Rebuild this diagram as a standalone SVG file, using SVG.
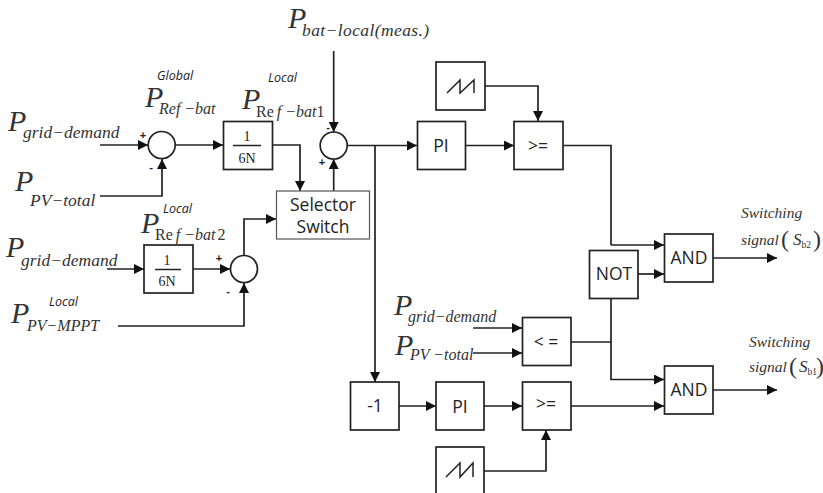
<svg xmlns="http://www.w3.org/2000/svg" width="823" height="493" viewBox="0 0 823 493">
<style>
.b{fill:#fff;stroke:#222;stroke-width:1.7}
.s{fill:#fff;stroke:#555;stroke-width:1.2}
.c{fill:none;stroke:#222;stroke-width:1.7}
.r{fill:none;stroke:#222;stroke-width:1.5}
.a{fill:none;stroke:#222;stroke-width:1.7;marker-end:url(#ah)}
text{fill:#222}
.m{font-family:"Liberation Serif",serif;font-style:italic;fill:#333}
.P{font-size:30px}
.u{font-size:17.500px}
.v{font-size:16px}
.up{font-style:normal}
.l{font-family:"Open Sans",sans-serif;font-style:italic;font-size:12.500px}
.g{font-family:"Open Sans",sans-serif;font-size:17.500px;text-anchor:middle}
.f{font-family:"Liberation Serif",serif;font-size:14px;text-anchor:middle}
.o{font-family:"Liberation Sans",sans-serif;font-size:11px;font-weight:bold;text-anchor:middle}
.sw{font-size:15.500px}
.par{font-size:24px;font-style:normal}
.t{font-size:9.500px;font-style:normal}
.cap{font-size:17px}
</style>
<defs>
<marker id="ah" markerUnits="userSpaceOnUse" markerWidth="11" markerHeight="11" refX="10" refY="5" orient="auto"><path d="M0 0L10 5L0 10Z" fill="#111"/></marker>
</defs>
<g id="connectors">
<path class="a" d="M100 145H148"/>
<path class="a" d="M100 196H162V159"/>
<path class="a" d="M175 145H223"/>
<path class="a" d="M272 145H300V191"/>
<path class="a" d="M333.700 51V132"/>
<path class="a" d="M333.700 191V159"/>
<path class="a" d="M107 269H144"/>
<path class="a" d="M193 269H230"/>
<path class="a" d="M244 255V219H276"/>
<path class="a" d="M118 326H244V283"/>
<path class="a" d="M347 145.500H417"/>
<path class="a" d="M375 145.500V382"/>
<path class="a" d="M466 145.500H514"/>
<path class="a" d="M485 86H538V121"/>
<path class="c" d="M563 145.500H611V245"/>
<path class="a" d="M611 245H664"/>
<path class="a" d="M638 274H664"/>
<path class="a" d="M713 258H777"/>
<path class="a" d="M473 328H522"/>
<path class="a" d="M473 353H522"/>
<path class="c" d="M571 342H611"/>
<path class="a" d="M611 299V379.500H664"/>
<path class="a" d="M399 406H436"/>
<path class="a" d="M484 406H522"/>
<path class="a" d="M571 406H664"/>
<path class="a" d="M484 471H546V430"/>
<path class="a" d="M713 390H777"/>
</g>
<g id="sum1"><circle class="b" cx="161.700" cy="145" r="13.500"/><text class="o" x="143" y="139">+</text><text class="o" x="151" y="171">-</text></g>
<g id="gain1"><rect class="b" x="223.500" y="121.500" width="49" height="48"/><text class="f" x="247" y="141">1</text><path class="r" d="M233 145.500H261"/><text class="f" x="247" y="163">6N</text></g>
<g id="sum2"><circle class="b" cx="333.700" cy="145.500" r="13.500"/><text class="o" x="328" y="131">-</text><text class="o" x="322" y="166">+</text></g>
<g id="selector"><rect class="s" x="276.500" y="191" width="93" height="48"/><text class="g" x="323" y="211">Selector</text><text class="g" x="323" y="233">Switch</text></g>
<g id="gain2"><rect class="b" x="144" y="245" width="49" height="48"/><text class="f" x="167" y="265">1</text><path class="r" d="M155 269.500H181"/><text class="f" x="167" y="286">6N</text></g>
<g id="sum3"><circle class="b" cx="244" cy="269" r="13.500"/><text class="o" x="219" y="262">+</text><text class="o" x="228" y="295">-</text></g>
<g id="pi1"><rect class="b" x="417.500" y="121.500" width="48" height="48"/><text class="g" x="441" y="152">PI</text></g>
<g id="ramp1"><rect class="b" x="436" y="62" width="49" height="48"/><path class="r" d="M447 93L460 80V93L474 80V93"/></g>
<g id="cmp1"><rect class="b" x="514" y="121.500" width="49" height="48"/><text class="g" x="538" y="152">&gt;=</text></g>
<g id="and1"><rect class="b" x="664.500" y="234" width="48.500" height="48"/><text class="g" x="689" y="264">AND</text></g>
<g id="not"><rect class="b" x="589.500" y="250.500" width="48.500" height="48"/><text class="g" x="614" y="280">NOT</text></g>
<g id="le"><rect class="b" x="522.500" y="317.500" width="48.500" height="48"/><text class="g" x="546" y="348">&lt; =</text></g>
<g id="and2"><rect class="b" x="664.500" y="366" width="48.500" height="48"/><text class="g" x="689" y="396">AND</text></g>
<g id="neg"><rect class="b" x="350.500" y="382" width="48.500" height="48"/><text class="g" x="375" y="412">-1</text></g>
<g id="pi2"><rect class="b" x="436" y="382" width="48" height="48"/><text class="g" x="460" y="413">PI</text></g>
<g id="cmp2"><rect class="b" x="522.500" y="382" width="48.500" height="48"/><text class="g" x="546" y="410">&gt;=</text></g>
<g id="ramp2"><rect class="b" x="436" y="447" width="48" height="50"/><path class="r" d="M446 477L460 463V477L473 463V477"/></g>
<g id="labels">
<text class="m"><tspan class="P" x="8" y="131">P</tspan><tspan class="u" x="23" y="138">grid−demand</tspan></text>
<text class="m"><tspan class="P" x="15" y="191">P</tspan><tspan class="u" x="30" y="206">PV−total</tspan></text>
<text class="l" x="157" y="80">Global</text>
<text class="m"><tspan class="P" x="145" y="107">P</tspan><tspan class="v" x="159" y="114">Ref −bat</tspan></text>
<text class="l" x="268" y="82">Local</text>
<text class="m"><tspan class="P" x="242" y="109">P</tspan><tspan class="v up" x="256" y="117">Re</tspan><tspan class="v" dx="3">f −bat</tspan><tspan class="v up">1</tspan></text>
<text class="l" x="163" y="213">Local</text>
<text class="m"><tspan class="P" x="141" y="233">P</tspan><tspan class="v up" x="155" y="240">Re</tspan><tspan class="v" dx="3">f −bat</tspan><tspan class="v up" dx="2">2</tspan></text>
<text class="m"><tspan class="P" x="6" y="257">P</tspan><tspan class="u" x="21" y="266">grid−demand</tspan></text>
<text class="l" x="49" y="306">Local</text>
<text class="m"><tspan class="P" x="11" y="323">P</tspan><tspan class="v" x="27" y="331">PV−MPPT</tspan></text>
<text class="m"><tspan class="P" x="288" y="28">P</tspan><tspan class="u" x="302" y="36" letter-spacing=".4">bat−local(meas.)</tspan></text>
<text class="m"><tspan class="P" x="394" y="315">P</tspan><tspan class="v" x="408" y="322">grid−demand</tspan></text>
<text class="m"><tspan class="P" x="395" y="355">P</tspan><tspan class="v" x="410" y="360">PV −total</tspan></text>
<text class="m sw" x="741" y="218">Switching</text>
<text class="m sw"><tspan x="741" y="245">signal</tspan><tspan class="par" dx="2" y="247">(</tspan><tspan class="cap" x="793" y="245">S</tspan><tspan class="t" y="248">b2</tspan><tspan class="par" x="813" y="247">)</tspan></text>
<text class="m sw" x="749" y="347">Switching</text>
<text class="m sw"><tspan x="749" y="372">signal</tspan><tspan class="par" dx="2" y="374">(</tspan><tspan class="cap" x="799" y="372">S</tspan><tspan class="t" y="375">b1</tspan><tspan class="par" x="816" y="374">)</tspan></text>
</g>
</svg>
